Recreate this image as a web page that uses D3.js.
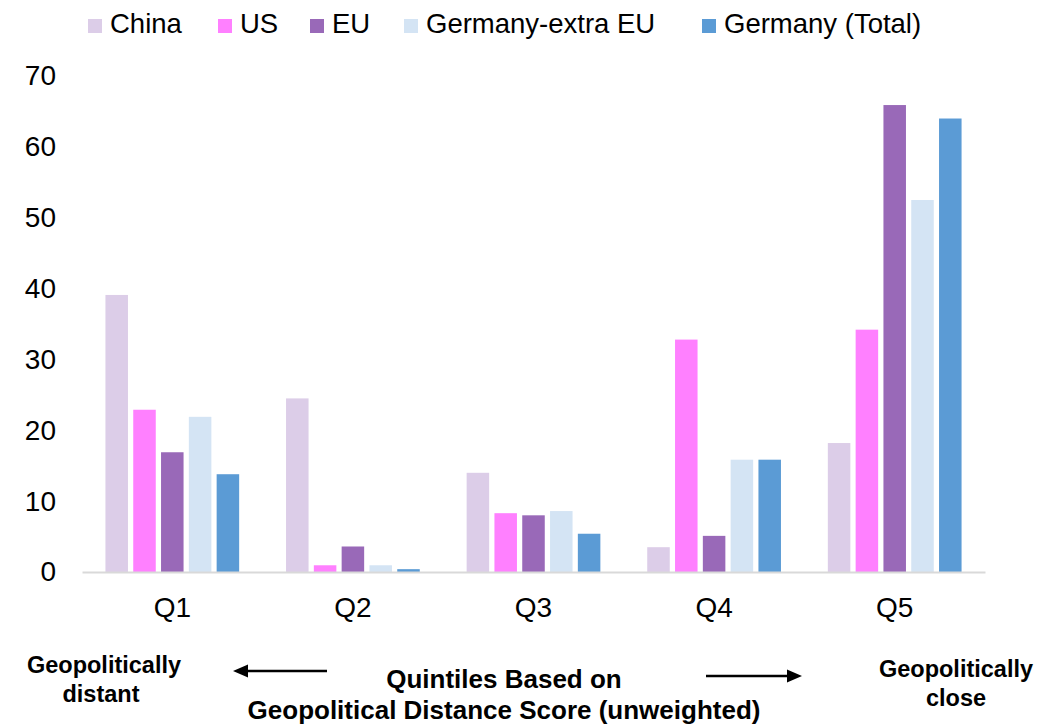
<!DOCTYPE html>
<html>
<head>
<meta charset="utf-8">
<script src="https://cdn.jsdelivr.net/npm/d3@7/dist/d3.min.js"></script>
<style>
  html, body { margin: 0; padding: 0; background: #fff; }
  svg { display: block; font-family: "Liberation Sans", Arial, sans-serif; }
</style>
</head>
<body>
<svg id="chart" width="1051" height="728"></svg>
<script>
// ---- Data ----
const categories = ["Q1", "Q2", "Q3", "Q4", "Q5"];
const seriesNames = ["China", "US", "EU", "Germany-extra EU", "Germany (Total)"];
const china        = [39.1, 24.5, 14.0, 3.5, 18.2];
const us           = [22.9, 0.95, 8.3, 32.8, 34.2];
const eu           = [16.9, 3.6, 8.0, 5.1, 65.9];
const germanyExtra = [21.9, 0.95, 8.6, 15.85, 52.5];
const germanyTotal = [13.8, 0.4, 5.4, 15.85, 64.0];
const yTicks = [0, 10, 20, 30, 40, 50, 60, 70];
const seriesColors = ["#dccde8", "#ff80ff", "#9969b8", "#d4e4f4", "#5b9bd5"];

const seriesValues = [china, us, eu, germanyExtra, germanyTotal];
const table = categories.map((c, i) => ({
  cat: c,
  vals: seriesNames.map((s, j) => ({ key: s, idx: j, value: seriesValues[j][i] }))
}));

const svg = d3.select("#chart");
const font = "'Liberation Sans', Arial, sans-serif";

// ---- Scales ----
const x0 = d3.scaleBand().domain(categories).range([82, 985]).paddingInner(0).paddingOuter(0);
const x1 = d3.scaleBand().domain(seriesNames).range([0, x0.bandwidth()])
  .paddingInner(0.19).paddingOuter(0.843);
const y = d3.scaleLinear().domain([0, 70]).range([572, 76]);

// ---- Bars ----
const groups = svg.append("g").selectAll("g").data(table).join("g")
  .attr("transform", d => `translate(${x0(d.cat)},0)`);
groups.selectAll("rect").data(d => d.vals).join("rect")
  .attr("x", d => x1(d.key))
  .attr("width", x1.bandwidth())
  .attr("y", d => y(d.value))
  .attr("height", d => y(0) - y(d.value))
  .attr("fill", d => seriesColors[d.idx]);

// ---- Y axis (labels only) ----
const yAxis = svg.append("g").attr("transform", "translate(56,0)")
  .call(d3.axisLeft(y).tickValues(yTicks).tickSize(0).tickPadding(0));
yAxis.select(".domain").remove();
yAxis.selectAll("text").attr("font-family", font).attr("font-size", 28).attr("fill", "#000");

// ---- X axis ----
const xAxis = svg.append("g").attr("transform", `translate(0,${y(0)})`)
  .call(d3.axisBottom(x0).tickSize(0).tickPadding(0));
xAxis.select(".domain").attr("stroke", "#d9d9d9").attr("stroke-width", 2);
xAxis.selectAll("text").attr("font-family", font).attr("font-size", 28).attr("fill", "#000")
  .attr("dy", null).attr("y", 45);

// ---- Legend ----
const legendX = [88, 218, 310, 404, 702];
const legend = svg.append("g").selectAll("g").data(seriesNames).join("g")
  .attr("transform", (d, i) => `translate(${legendX[i]},0)`);
legend.append("rect").attr("x", 0).attr("y", 19).attr("width", 14).attr("height", 14)
  .attr("fill", (d, i) => seriesColors[i]);
legend.append("text").attr("x", 22).attr("y", 33).text(d => d)
  .attr("font-family", font).attr("font-size", 27.5).attr("fill", "#000");

// ---- Bottom annotations ----
const ann = svg.append("g").attr("font-family", font).attr("font-weight", "bold").attr("fill", "#000");
ann.append("text").attr("x", 104).attr("y", 673).attr("text-anchor", "middle").attr("font-size", 23.5).text("Geopolitically");
ann.append("text").attr("x", 101).attr("y", 702).attr("text-anchor", "middle").attr("font-size", 23.5).text("distant");
ann.append("text").attr("x", 956).attr("y", 677).attr("text-anchor", "middle").attr("font-size", 23.5).text("Geopolitically");
ann.append("text").attr("x", 956).attr("y", 706).attr("text-anchor", "middle").attr("font-size", 23.5).text("close");
ann.append("text").attr("x", 504).attr("y", 688).attr("text-anchor", "middle").attr("font-size", 26).text("Quintiles Based on");
ann.append("text").attr("x", 504).attr("y", 719).attr("text-anchor", "middle").attr("font-size", 26).text("Geopolitical Distance Score (unweighted)");

// Arrows
const arrows = svg.append("g");
arrows.append("line").attr("x1", 245).attr("x2", 327).attr("y1", 671).attr("y2", 671)
  .attr("stroke", "#000").attr("stroke-width", 2.5);
arrows.append("path").attr("d", "M233,671 L248,664.5 L248,677.5 Z").attr("fill", "#000");
arrows.append("line").attr("x1", 706).attr("x2", 790).attr("y1", 676).attr("y2", 676)
  .attr("stroke", "#000").attr("stroke-width", 2.5);
arrows.append("path").attr("d", "M802,676 L787,669.5 L787,682.5 Z").attr("fill", "#000");
</script>
</body>
</html>
